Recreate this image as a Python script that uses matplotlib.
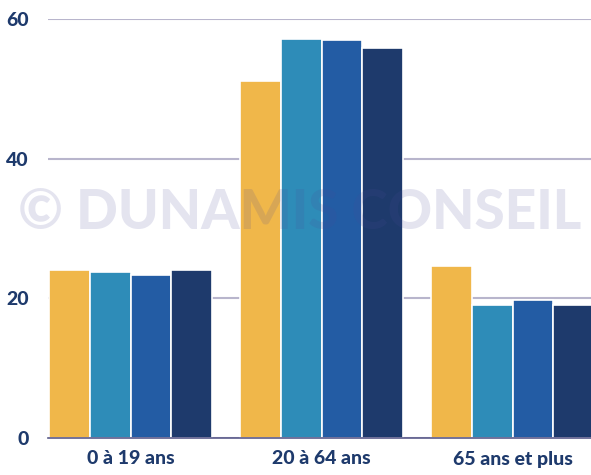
import numpy as np
import matplotlib.pyplot as plt

categories = ["0 à 19 ans", "20 à 64 ans", "65 ans et plus"]
serie_a = [24.0, 51.1, 24.7]
serie_b = [23.8, 57.1, 19.1]
serie_c = [23.3, 57.0, 19.7]
serie_d = [24.0, 55.9, 19.0]
yticks = [0, 20, 40, 60]

colors = ["#F0B74A", "#2E8CB8", "#235CA4", "#1E3A6C"]
navy = "#1E3A6C"

fig = plt.figure(figsize=(5.91, 4.75), dpi=100)
ax = fig.add_axes([48 / 591, 37 / 475, 543 / 591, 419 / 475])

x = np.arange(len(categories))
width = 0.213
offsets = [-1.5, -0.5, 0.5, 1.5]
for s, c, o in zip([serie_a, serie_b, serie_c, serie_d], colors, offsets):
    ax.bar(x + o * width, s, width, color=c, edgecolor="white", linewidth=1.2, zorder=3)

ax.set_xlim(-0.432, 2.41)
ax.set_ylim(0, 60)
ax.set_yticks(yticks)
ax.set_xticks(x)
ax.set_xticklabels(categories)
ax.yaxis.grid(True, color="#B8B5CC", linewidth=1.5, zorder=0)
ax.set_axisbelow(True)
for side in ["top", "right", "left"]:
    ax.spines[side].set_visible(False)
ax.spines["bottom"].set_color("#5A5A8A")
ax.spines["bottom"].set_linewidth(1.2)
ax.spines["bottom"].set_zorder(4)
ax.tick_params(length=0)
ax.tick_params(axis="y", pad=14)
ax.tick_params(axis="x", pad=9)
for lab in ax.get_xticklabels() + ax.get_yticklabels():
    lab.set_fontfamily("Lato")
    lab.set_fontweight("black")
    lab.set_fontsize(14)
    lab.set_color(navy)

fig.text(0.5076, 0.551, "© DUNAMIS CONSEIL", fontsize=39.5, fontfamily="Lato",
         fontweight="black", color="#4A4A99", alpha=0.15, ha="center", va="center",
         zorder=10)

fig.savefig("out.png", dpi=100)
